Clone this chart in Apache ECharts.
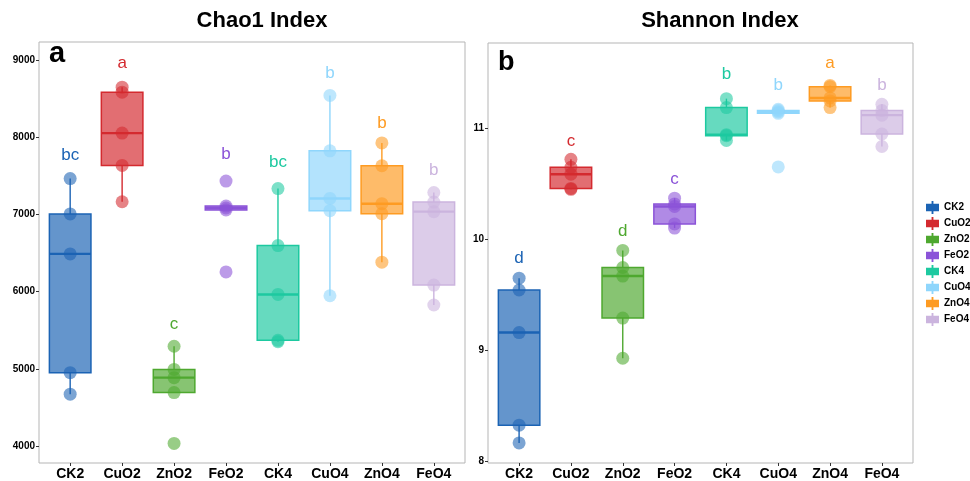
<!DOCTYPE html>
<html><head><meta charset="utf-8">
<script src="https://cdn.jsdelivr.net/npm/echarts@6/dist/echarts.min.js"></script>
<style>html,body{margin:0;padding:0;background:#fff}#c{width:970px;height:481px}</style>
</head><body><div id="c"></div><script>
const groups = ['CK2','CuO2','ZnO2','FeO2','CK4','CuO4','ZnO4','FeO4'];
const colors = ['#1b63b4','#d42a2f','#4ea82f','#8b53d8','#1dc9a0','#8fd6fc','#fe9b22','#cbb4de'];
const chao1Points = [
  [7462, 7004, 6487, 4949, 4671],
  [8645, 8581, 8051, 7632, 7162],
  [5291, 4991, 4885, 4692, 4034],
  [7430, 7106, 7081, 7055, 6253],
  [7333, 6595, 5962, 5368, 5350],
  [8538, 7821, 7205, 7047, 5945],
  [7923, 7628, 7137, 7008, 6380],
  [7282, 7158, 7034, 6083, 5825]
];
const shannonPoints = [
  [9.648, 9.541, 9.157, 8.321, 8.161],
  [10.72, 10.648, 10.586, 10.458, 10.45],
  [9.898, 9.744, 9.667, 9.288, 8.925],
  [10.37, 10.318, 10.295, 10.137, 10.10],
  [11.268, 11.187, 10.943, 10.934, 10.89],
  [11.172, 11.16, 11.148, 11.135, 10.652],
  [11.387, 11.375, 11.274, 11.247, 11.187],
  [11.217, 11.161, 11.119, 10.949, 10.836]
];
const chao1Letters = ['bc','a','c','b','bc','b','b','b'];
const chao1LetterY = [7769, 8957, 5577, 7782, 7675, 8829, 8179, 7568];
const shannonLetters = ['d','c','d','c','b','b','a','b'];
const shannonLetterY = [9.824, 10.88, 10.071, 10.536, 11.485, 11.387, 11.583, 11.387];
const chao1Ticks = [4000, 5000, 6000, 7000, 8000, 9000];
const shannonTicks = [8, 9, 10, 11];
const xPositions = [1, 2, 3, 4, 5, 6, 7, 8];

const FONT = "'Liberation Sans', Arial, Helvetica, sans-serif";

function quantile(sorted, p) {
  const h = (sorted.length - 1) * p;
  const lo = Math.floor(h);
  const hi = Math.min(lo + 1, sorted.length - 1);
  return sorted[lo] + (h - lo) * (sorted[hi] - sorted[lo]);
}
function boxStats(vals) {
  const s = vals.slice().sort((a, b) => a - b);
  const q1 = quantile(s, 0.25), med = quantile(s, 0.5), q3 = quantile(s, 0.75);
  const iqr = q3 - q1;
  const inRange = s.filter(v => v >= q1 - 1.5 * iqr && v <= q3 + 1.5 * iqr);
  return [Math.min(...inRange), q1, med, q3, Math.max(...inRange)];
}
function hexToRgba(hex, a) {
  const n = parseInt(hex.slice(1), 16);
  return 'rgba(' + ((n >> 16) & 255) + ',' + ((n >> 8) & 255) + ',' + (n & 255) + ',' + a + ')';
}

function boxRender(params, api) {
  const x = api.value(0);
  const lo = api.value(1), q1 = api.value(2), med = api.value(3), q3 = api.value(4), hi = api.value(5);
  const col = api.visual('color');
  const half = 0.4;
  const pTL = api.coord([x - half, q3]);
  const pBR = api.coord([x + half, q1]);
  const pMedL = api.coord([x - half, med]);
  const pMedR = api.coord([x + half, med]);
  const pHi = api.coord([x, hi]);
  const pQ3 = api.coord([x, q3]);
  const pQ1 = api.coord([x, q1]);
  const pLo = api.coord([x, lo]);
  return {
    type: 'group',
    children: [
      { type: 'line', shape: { x1: pHi[0], y1: pHi[1], x2: pQ3[0], y2: pQ3[1] }, style: { stroke: col, lineWidth: 1.4 } },
      { type: 'line', shape: { x1: pQ1[0], y1: pQ1[1], x2: pLo[0], y2: pLo[1] }, style: { stroke: col, lineWidth: 1.4 } },
      { type: 'rect', shape: { x: pTL[0], y: pTL[1], width: pBR[0] - pTL[0], height: Math.max(pBR[1] - pTL[1], 1) },
        style: { fill: hexToRgba(col, 0.68), stroke: col, lineWidth: 1.5 } },
      { type: 'line', shape: { x1: pMedL[0], y1: pMedL[1], x2: pMedR[0], y2: pMedR[1] }, style: { stroke: col, lineWidth: 2.4 } }
    ]
  };
}

function letterRender(letters) {
  return function (params, api) {
    const p = api.coord([api.value(0), api.value(1)]);
    return {
      type: 'text', x: p[0], y: p[1],
      style: { text: letters[params.dataIndex], fill: colors[params.dataIndex], font: '17px ' + FONT, textAlign: 'center', textVerticalAlign: 'middle' }
    };
  };
}

const series = [];
[chao1Points, shannonPoints].forEach((pts, panel) => {
  groups.forEach((g, i) => {
    series.push({
      name: g, type: 'custom', xAxisIndex: panel, yAxisIndex: panel,
      itemStyle: { color: colors[i] },
      renderItem: boxRender,
      data: [[xPositions[i]].concat(boxStats(pts[i]))],
      z: 2
    });
  });
  groups.forEach((g, i) => {
    series.push({
      name: g, type: 'scatter', xAxisIndex: panel, yAxisIndex: panel,
      symbol: 'circle', symbolSize: 13,
      itemStyle: { color: colors[i], opacity: 0.58 },
      data: pts[i].map(v => [xPositions[i], v]),
      z: 3, silent: true
    });
  });
  const letters = panel === 0 ? chao1Letters : shannonLetters;
  const ly = panel === 0 ? chao1LetterY : shannonLetterY;
  series.push({
    type: 'custom', xAxisIndex: panel, yAxisIndex: panel,
    renderItem: letterRender(letters),
    data: ly.map((v, i) => [xPositions[i], v]),
    z: 4, silent: true
  });
});

function xAxis(gi) {
  return {
    type: 'value', gridIndex: gi, min: 0.4, max: 8.6,
    axisLine: { show: false },
    splitLine: { show: false },
    axisTick: { show: true, customValues: xPositions, length: 3, lineStyle: { color: '#333', width: 1 } },
    axisLabel: { customValues: xPositions, margin: 4, color: '#000', fontWeight: 'bold', fontSize: 14, fontFamily: FONT,
      formatter: v => groups[Math.round(v) - 1] }
  };
}
function yAxis(gi, min, max, ticks) {
  return {
    type: 'value', gridIndex: gi, min: min, max: max,
    axisLine: { show: false },
    splitLine: { show: false },
    axisTick: { show: true, customValues: ticks, length: 3, lineStyle: { color: '#333', width: 1 } },
    axisLabel: { customValues: ticks, margin: 4, color: '#000', fontWeight: 'bold', fontSize: 10, fontFamily: FONT,
      formatter: v => String(v) }
  };
}

const legendIcon = 'path://M0,3 L6,3 L6,0 L8,0 L8,3 L14,3 L14,11 L8,11 L8,14 L6,14 L6,11 L0,11 Z';

const option = {
  animation: false,
  backgroundColor: '#fff',
  grid: [
    { left: 39, top: 42, width: 426, height: 425, show: true, borderColor: '#b5b5b5', borderWidth: 1, backgroundColor: '#fff' },
    { left: 488, top: 43, width: 425, height: 424, show: true, borderColor: '#b5b5b5', borderWidth: 1, backgroundColor: '#fff' }
  ],
  xAxis: [xAxis(0), xAxis(1)],
  yAxis: [yAxis(0, 3780, 9230, chao1Ticks), yAxis(1, 7.98, 11.77, shannonTicks)],
  legend: {
    orient: 'vertical', left: 926, top: 201, padding: 0,
    itemWidth: 13, itemHeight: 13, itemGap: 3,
    icon: legendIcon, selectedMode: false,
    textStyle: { color: '#000', fontSize: 10, fontWeight: 'bold', fontFamily: FONT },
    data: groups.map(g => ({ name: g, icon: legendIcon }))
  },
  graphic: [
    { type: 'text', x: 262, y: 21, style: { text: 'Chao1 Index', font: 'bold 22px ' + FONT, fill: '#000', textAlign: 'center', textVerticalAlign: 'middle' } },
    { type: 'text', x: 720, y: 21, style: { text: 'Shannon Index', font: 'bold 22px ' + FONT, fill: '#000', textAlign: 'center', textVerticalAlign: 'middle' } },
    { type: 'text', x: 49, y: 68, style: { text: 'a', font: 'bold 29px ' + FONT, fill: '#000', textAlign: 'left', textVerticalAlign: 'bottom' } },
    { type: 'text', x: 498, y: 76, style: { text: 'b', font: 'bold 27px ' + FONT, fill: '#000', textAlign: 'left', textVerticalAlign: 'bottom' } }
  ],
  series: series
};
const chart = echarts.init(document.getElementById('c'), null, { renderer: 'canvas' });
chart.setOption(option);
</script></body></html>
